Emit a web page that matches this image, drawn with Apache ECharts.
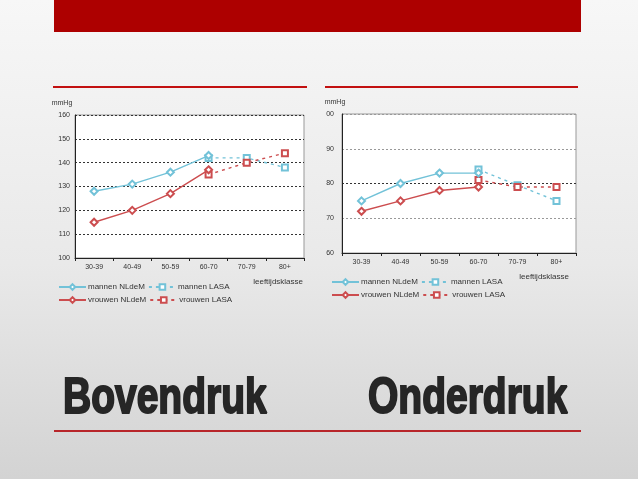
<!DOCTYPE html>
<html>
<head>
<meta charset="utf-8">
<script src="https://cdn.jsdelivr.net/npm/echarts@6/dist/echarts.min.js"></script>
<style>
  html, body { margin: 0; padding: 0; }
  #main { width: 638px; height: 479px; }
</style>
</head>
<body>
<div id="main"></div>
<script>
const categories = ['30-39', '40-49', '50-59', '60-70', '70-79', '80+'];

// Bovendruk (systolisch)
const bovenMannenNL = [128, 131, 136, 143, null, null];
const bovenMannenLASA = [null, null, null, 142, 142, 138];
const bovenVrouwenNL = [115, 120, 127, 137, null, null];
const bovenVrouwenLASA = [null, null, null, 135, 140, 144];

// Onderdruk (diastolisch)
const onderMannenNL = [75, 80, 83, 83, null, null];
const onderMannenLASA = [null, null, null, 84, 79.5, 75];
const onderVrouwenNL = [72, 75, 78, 79, null, null];
const onderVrouwenLASA = [null, null, null, 81, 79, 79];

const blue = '#72c2d8';
const red = '#cc4d4f';
const txt = '#333';
const font = '"Liberation Sans", Arial, sans-serif';

const mkSeries = (name, data, idx, color, dashed) => ({
  name: name,
  type: 'line',
  xAxisIndex: idx,
  yAxisIndex: idx,
  data: data,
  symbol: dashed ? 'emptyRect' : 'emptyDiamond',
  symbolSize: dashed ? 6 : 7,
  itemStyle: { color: color, borderWidth: 1 },
  lineStyle: { color: color, width: 1.4, type: dashed ? [3, 4] : 'solid' },
  emphasis: { disabled: true },
  z: dashed ? 3 : 4
});

const mkX = (idx, padRight) => ({
  type: 'category',
  gridIndex: idx,
  data: categories,
  boundaryGap: true,
  axisLine: { lineStyle: { color: '#222', width: 1 } },
  axisTick: { show: true, length: 3, lineStyle: { color: '#222' } },
  axisLabel: { fontSize: 7, color: txt, fontFamily: font, margin: 6 },
  name: 'leeftijdsklasse',
  nameLocation: 'end',
  nameGap: 0,
  nameTextStyle: { fontSize: 8, color: txt, fontFamily: font, align: 'right', verticalAlign: 'top', padding: [20, padRight, 0, 0] }
});

const mkY = (idx, min, max, margin, namePad, gridColors, fmt) => ({
  type: 'value',
  gridIndex: idx,
  min: min,
  max: max,
  interval: 10,
  axisLine: { show: true, lineStyle: { color: '#222', width: 1 } },
  axisTick: { show: false },
  axisLabel: { fontSize: 7, color: txt, fontFamily: font, margin: margin, formatter: fmt },
  splitLine: { show: true, lineStyle: { color: gridColors, width: 1, type: [2, 2] } },
  name: 'mmHg',
  nameLocation: 'end',
  nameGap: 8,
  nameTextStyle: { fontSize: 7, color: txt, fontFamily: font, align: 'center', padding: [0, namePad, 0, 0] }
});

const mkLegend = (left, top, names) => ({
  left: left,
  top: top,
  orient: 'horizontal',
  itemWidth: 27,
  itemHeight: 7,
  itemGap: 3,
  selectedMode: false,
  data: names,
  textStyle: { fontSize: 8, color: txt, fontFamily: font, padding: [0, 0, 0, -3] }
});

const option = {
  animation: false,
  backgroundColor: new echarts.graphic.LinearGradient(0, 0, 0, 1, [
    { offset: 0, color: '#f7f7f7' },
    { offset: 0.55, color: '#e9e9e9' },
    { offset: 1, color: '#d3d3d3' }
  ]),
  grid: [
    { left: 75, top: 115, width: 229, height: 143, show: true, backgroundColor: '#fff', borderColor: '#999', borderWidth: 1 },
    { left: 342, top: 114, width: 234, height: 139, show: true, backgroundColor: '#fff', borderColor: '#999', borderWidth: 1 }
  ],
  xAxis: [mkX(0, 1), mkX(1, 7)],
  yAxis: [
    mkY(0, 100, 160, 5, 26, ['#333'], v => v),
    mkY(1, 60, 100, 8, 14, ['#999', '#999', '#333', '#999', '#999'], v => (v === 100 ? '00' : v))
  ],
  legend: [
    mkLegend(53, 278, ['mannen NLdeM', 'mannen LASA']),
    mkLegend(53, 291, ['vrouwen NLdeM', 'vrouwen LASA']),
    mkLegend(326, 273, ['mannen NLdeM', 'mannen LASA']),
    mkLegend(326, 286, ['vrouwen NLdeM', 'vrouwen LASA'])
  ],
  series: [
    mkSeries('mannen NLdeM', bovenMannenNL, 0, blue, false),
    mkSeries('mannen LASA', bovenMannenLASA, 0, blue, true),
    mkSeries('vrouwen NLdeM', bovenVrouwenNL, 0, red, false),
    mkSeries('vrouwen LASA', bovenVrouwenLASA, 0, red, true),
    mkSeries('mannen NLdeM', onderMannenNL, 1, blue, false),
    mkSeries('mannen LASA', onderMannenLASA, 1, blue, true),
    mkSeries('vrouwen NLdeM', onderVrouwenNL, 1, red, false),
    mkSeries('vrouwen LASA', onderVrouwenLASA, 1, red, true)
  ],
  graphic: [
    { type: 'rect', shape: { x: 54, y: 0, width: 527, height: 32 }, style: { fill: '#ad0000' } },
    { type: 'rect', shape: { x: 53, y: 86, width: 254, height: 2 }, style: { fill: '#c21010' } },
    { type: 'rect', shape: { x: 325, y: 86, width: 253, height: 2 }, style: { fill: '#c21010' } },
    { type: 'rect', shape: { x: 54, y: 430, width: 527, height: 2 }, style: { fill: '#b8262a' } },
    {
      type: 'text', x: 63, y: 399, scaleX: 0.78,
      style: { text: 'Bovendruk', font: 'bold 50px "Liberation Sans", Arial, sans-serif', fill: '#262626', verticalAlign: 'middle', stroke: '#262626', lineWidth: 2 }
    },
    {
      type: 'text', x: 368, y: 399, scaleX: 0.78,
      style: { text: 'Onderdruk', font: 'bold 50px "Liberation Sans", Arial, sans-serif', fill: '#262626', verticalAlign: 'middle', stroke: '#262626', lineWidth: 2 }
    }
  ]
};

const chart = echarts.init(document.getElementById('main'));
chart.setOption(option);
</script>
</body>
</html>
